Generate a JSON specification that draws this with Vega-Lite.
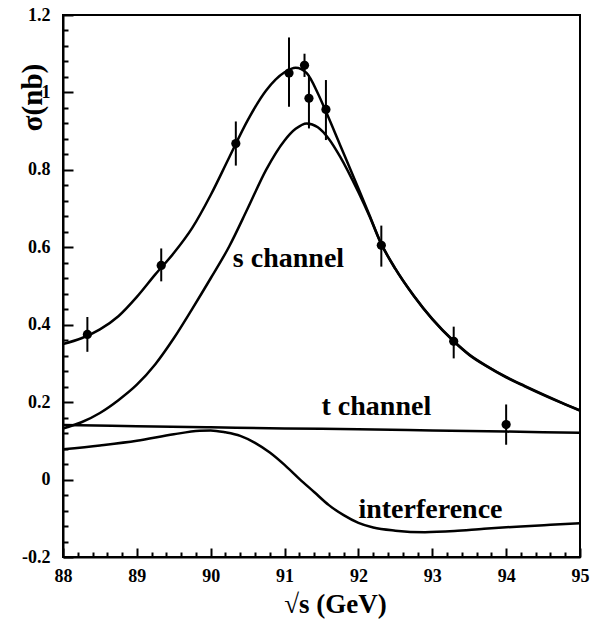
{
  "$schema": "https://vega.github.io/schema/vega-lite/v6.json",
  "width": 517,
  "height": 542,
  "autosize": "none",
  "padding": {"left": 63, "top": 15, "right": 11, "bottom": 74},
  "background": "white",
  "config": {
    "view": {"stroke": "black", "strokeWidth": 2},
    "font": "Liberation Serif",
    "axis": {"grid": false, "tickColor": "black", "tickWidth": 2, "domainColor": "black", "domainWidth": 2, "labelOverlap": false, "labelBound": false, "labelFlush": false, "labelColor": "black", "titleColor": "black"}
  },
  "datasets": {
    "curves": [
      {"x": 88.0, "y": 0.350, "series": "total"},
      {"x": 88.25, "y": 0.365, "series": "total"},
      {"x": 88.5, "y": 0.388, "series": "total"},
      {"x": 88.75, "y": 0.422, "series": "total"},
      {"x": 89.0, "y": 0.472, "series": "total"},
      {"x": 89.25, "y": 0.530, "series": "total"},
      {"x": 89.5, "y": 0.585, "series": "total"},
      {"x": 89.75, "y": 0.650, "series": "total"},
      {"x": 90.0, "y": 0.735, "series": "total"},
      {"x": 90.25, "y": 0.832, "series": "total"},
      {"x": 90.5, "y": 0.928, "series": "total"},
      {"x": 90.75, "y": 1.005, "series": "total"},
      {"x": 91.0, "y": 1.052, "series": "total"},
      {"x": 91.15, "y": 1.064, "series": "total"},
      {"x": 91.3, "y": 1.050, "series": "total"},
      {"x": 91.45, "y": 0.998, "series": "total"},
      {"x": 91.55, "y": 0.955, "series": "total"},
      {"x": 91.75, "y": 0.865, "series": "total"},
      {"x": 92.0, "y": 0.752, "series": "total"},
      {"x": 92.15, "y": 0.683, "series": "total"},
      {"x": 92.3, "y": 0.613, "series": "total"},
      {"x": 92.5, "y": 0.545, "series": "total"},
      {"x": 92.75, "y": 0.475, "series": "total"},
      {"x": 93.0, "y": 0.415, "series": "total"},
      {"x": 93.3, "y": 0.356, "series": "total"},
      {"x": 93.5, "y": 0.323, "series": "total"},
      {"x": 93.75, "y": 0.292, "series": "total"},
      {"x": 94.0, "y": 0.265, "series": "total"},
      {"x": 94.25, "y": 0.242, "series": "total"},
      {"x": 94.5, "y": 0.220, "series": "total"},
      {"x": 94.75, "y": 0.199, "series": "total"},
      {"x": 95.0, "y": 0.179, "series": "total"},

      {"x": 88.0, "y": 0.132, "series": "s"},
      {"x": 88.25, "y": 0.148, "series": "s"},
      {"x": 88.5, "y": 0.172, "series": "s"},
      {"x": 88.75, "y": 0.205, "series": "s"},
      {"x": 89.0, "y": 0.245, "series": "s"},
      {"x": 89.25, "y": 0.298, "series": "s"},
      {"x": 89.5, "y": 0.365, "series": "s"},
      {"x": 89.75, "y": 0.441, "series": "s"},
      {"x": 90.0, "y": 0.520, "series": "s"},
      {"x": 90.25, "y": 0.602, "series": "s"},
      {"x": 90.5, "y": 0.700, "series": "s"},
      {"x": 90.75, "y": 0.800, "series": "s"},
      {"x": 91.0, "y": 0.876, "series": "s"},
      {"x": 91.15, "y": 0.906, "series": "s"},
      {"x": 91.3, "y": 0.920, "series": "s"},
      {"x": 91.45, "y": 0.910, "series": "s"},
      {"x": 91.6, "y": 0.880, "series": "s"},
      {"x": 91.75, "y": 0.835, "series": "s"},
      {"x": 92.0, "y": 0.742, "series": "s"},
      {"x": 92.15, "y": 0.680, "series": "s"},
      {"x": 92.3, "y": 0.612, "series": "s"},
      {"x": 92.5, "y": 0.544, "series": "s"},
      {"x": 92.75, "y": 0.474, "series": "s"},
      {"x": 93.0, "y": 0.414, "series": "s"},
      {"x": 93.3, "y": 0.355, "series": "s"},
      {"x": 93.5, "y": 0.322, "series": "s"},
      {"x": 93.75, "y": 0.291, "series": "s"},
      {"x": 94.0, "y": 0.264, "series": "s"},
      {"x": 94.25, "y": 0.241, "series": "s"},
      {"x": 94.5, "y": 0.219, "series": "s"},
      {"x": 94.75, "y": 0.198, "series": "s"},
      {"x": 95.0, "y": 0.178, "series": "s"},

      {"x": 88.0, "y": 0.141, "series": "t"},
      {"x": 89.0, "y": 0.138, "series": "t"},
      {"x": 90.0, "y": 0.135, "series": "t"},
      {"x": 91.0, "y": 0.132, "series": "t"},
      {"x": 92.0, "y": 0.130, "series": "t"},
      {"x": 93.0, "y": 0.127, "series": "t"},
      {"x": 94.0, "y": 0.124, "series": "t"},
      {"x": 95.0, "y": 0.121, "series": "t"},

      {"x": 88.0, "y": 0.078, "series": "i"},
      {"x": 88.5, "y": 0.088, "series": "i"},
      {"x": 89.0, "y": 0.100, "series": "i"},
      {"x": 89.5, "y": 0.117, "series": "i"},
      {"x": 89.85, "y": 0.126, "series": "i"},
      {"x": 90.0, "y": 0.127, "series": "i"},
      {"x": 90.2, "y": 0.122, "series": "i"},
      {"x": 90.4, "y": 0.113, "series": "i"},
      {"x": 90.6, "y": 0.095, "series": "i"},
      {"x": 90.8, "y": 0.070, "series": "i"},
      {"x": 91.0, "y": 0.038, "series": "i"},
      {"x": 91.2, "y": 0.002, "series": "i"},
      {"x": 91.4, "y": -0.032, "series": "i"},
      {"x": 91.6, "y": -0.066, "series": "i"},
      {"x": 91.8, "y": -0.092, "series": "i"},
      {"x": 92.0, "y": -0.112, "series": "i"},
      {"x": 92.2, "y": -0.124, "series": "i"},
      {"x": 92.5, "y": -0.132, "series": "i"},
      {"x": 92.9, "y": -0.136, "series": "i"},
      {"x": 93.3, "y": -0.133, "series": "i"},
      {"x": 93.7, "y": -0.127, "series": "i"},
      {"x": 94.2, "y": -0.121, "series": "i"},
      {"x": 94.6, "y": -0.117, "series": "i"},
      {"x": 95.0, "y": -0.113, "series": "i"}
    ],
    "points": [
      {"x": 88.33, "y": 0.375, "lo": 0.330, "hi": 0.420},
      {"x": 89.33, "y": 0.553, "lo": 0.512, "hi": 0.597},
      {"x": 90.34, "y": 0.868, "lo": 0.811, "hi": 0.925},
      {"x": 91.06, "y": 1.050, "lo": 0.963, "hi": 1.142},
      {"x": 91.27, "y": 1.070, "lo": 1.040, "hi": 1.100},
      {"x": 91.33, "y": 0.985, "lo": 0.907, "hi": 1.045},
      {"x": 91.56, "y": 0.956, "lo": 0.877, "hi": 1.032},
      {"x": 92.31, "y": 0.605, "lo": 0.550, "hi": 0.656},
      {"x": 93.29, "y": 0.357, "lo": 0.313, "hi": 0.395},
      {"x": 94.0, "y": 0.142, "lo": 0.090, "hi": 0.194}
    ],
    "labels": [
      {"x": 90.3, "y": 0.571, "text": "s channel"},
      {"x": 91.5, "y": 0.188, "text": "t channel"},
      {"x": 92.0, "y": -0.079, "text": "interference"}
    ]
  },
  "resolve": {"axis": {"x": "independent", "y": "independent"}},
  "layer": [
    {
      "data": {"name": "curves"},
      "mark": {"type": "line", "color": "black", "strokeWidth": 2.5, "interpolate": "monotone", "clip": true},
      "encoding": {
        "x": {
          "field": "x", "type": "quantitative",
          "scale": {"domain": [88, 95], "nice": false, "zero": false},
          "axis": {
            "orient": "bottom",
            "values": [88, 89, 90, 91, 92, 93, 94, 95],
            "format": ".0f",
            "tickSize": -9,
            "labelFont": "Liberation Serif", "labelFontWeight": "bold", "labelFontSize": 18,
            "labelPadding": 19,
            "title": "√s (GeV)",
            "titleFont": "Liberation Serif", "titleFontWeight": "bold", "titleFontSize": 27,
            "titleX": 272, "titleY": 47, "titleAlign": "center", "titleBaseline": "middle"
          }
        },
        "y": {
          "field": "y", "type": "quantitative",
          "scale": {"domain": [-0.2, 1.2], "nice": false, "zero": false},
          "axis": {
            "orient": "left",
            "values": [-0.2, 0, 0.2, 0.4, 0.6, 0.8, 1, 1.2],
            "labelExpr": "replace(datum.label, '−', '-')",
            "format": ".1~f",
            "tickSize": -10,
            "labelFont": "Liberation Serif", "labelFontWeight": "bold", "labelFontSize": 18,
            "labelPadding": 23,
            "title": "σ(nb)",
            "titleFont": "Liberation Serif", "titleFontWeight": "bold", "titleFontSize": 29,
            "titleX": -31, "titleY": 82, "titleAngle": -90, "titleAlign": "center", "titleBaseline": "middle"
          }
        },
        "detail": {"field": "series", "type": "nominal"}
      }
    },
    {
      "data": {"name": "points"},
      "mark": {"type": "rule", "color": "black", "strokeWidth": 2},
      "encoding": {
        "x": {
          "field": "x", "type": "quantitative",
          "axis": {
            "orient": "bottom",
            "values": [88.2, 88.4, 88.6, 88.8, 89.2, 89.4, 89.6, 89.8, 90.2, 90.4, 90.6, 90.8, 91.2, 91.4, 91.6, 91.8, 92.2, 92.4, 92.6, 92.8, 93.2, 93.4, 93.6, 93.8, 94.2, 94.4, 94.6, 94.8],
            "tickSize": -5, "labels": false, "domain": false, "title": null
          }
        },
        "y": {
          "field": "lo", "type": "quantitative",
          "axis": {
            "orient": "left",
            "values": [-0.16, -0.12, -0.08, -0.04, 0.04, 0.08, 0.12, 0.16, 0.24, 0.28, 0.32, 0.36, 0.44, 0.48, 0.52, 0.56, 0.64, 0.68, 0.72, 0.76, 0.84, 0.88, 0.92, 0.96, 1.04, 1.08, 1.12, 1.16],
            "tickSize": -5, "labels": false, "domain": false, "title": null
          }
        },
        "y2": {"field": "hi"}
      }
    },
    {
      "data": {"name": "points"},
      "mark": {"type": "circle", "color": "black", "opacity": 1, "size": 85},
      "encoding": {
        "x": {"field": "x", "type": "quantitative", "axis": null},
        "y": {"field": "y", "type": "quantitative", "axis": null}
      }
    },
    {
      "data": {"name": "labels"},
      "mark": {"type": "text", "align": "left", "baseline": "middle", "font": "Liberation Serif", "fontWeight": "bold", "fontSize": 28, "color": "black"},
      "encoding": {
        "x": {"field": "x", "type": "quantitative", "axis": null},
        "y": {"field": "y", "type": "quantitative", "axis": null},
        "text": {"field": "text", "type": "nominal"}
      }
    }
  ]
}
